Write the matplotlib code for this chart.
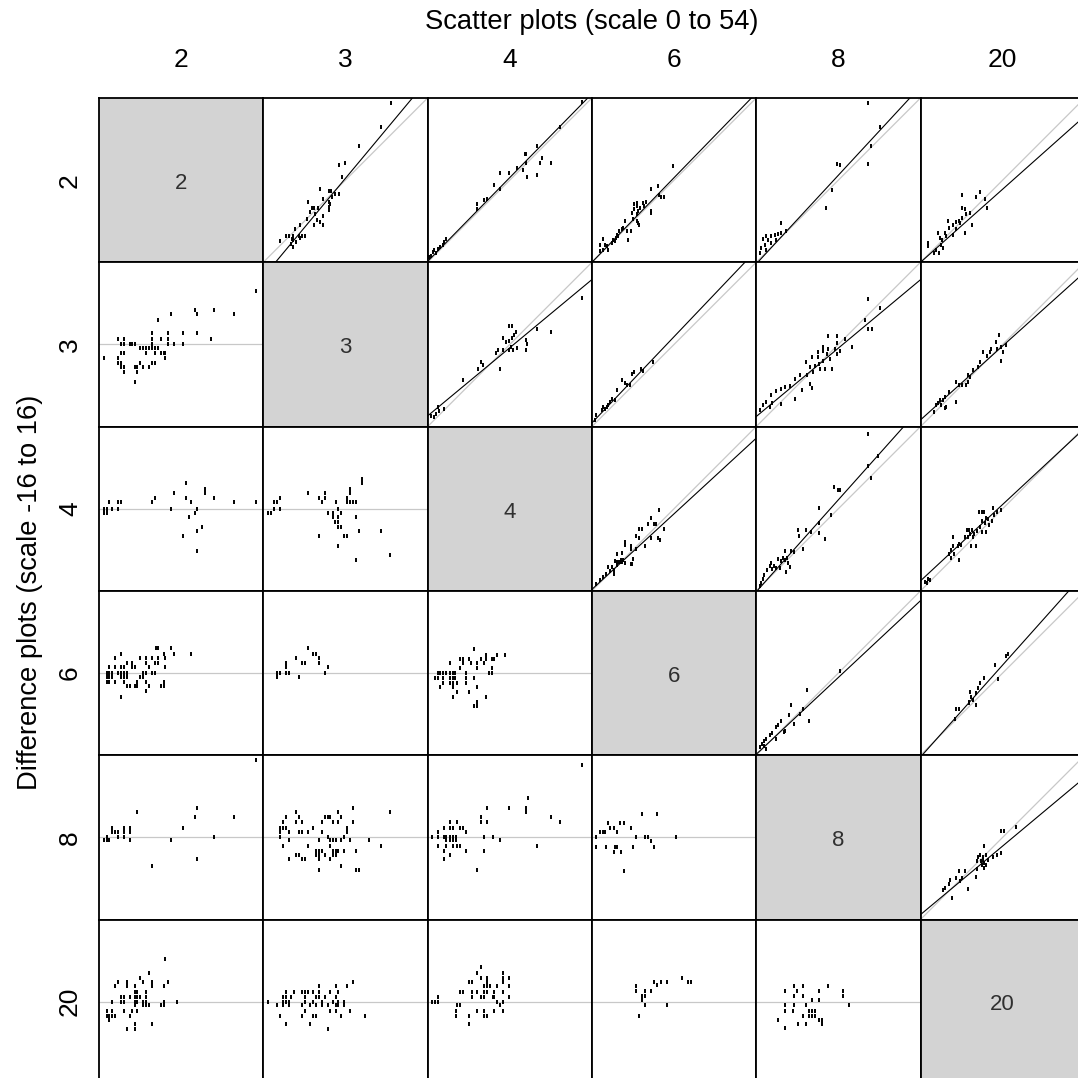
import matplotlib
matplotlib.use("Agg")
import matplotlib.pyplot as plt

plt.rcParams["font.family"] = ["Liberation Sans", "DejaVu Sans"]

labels = ["2", "3", "4", "6", "8", "20"]

# ---- scatter plots (upper triangle), scale 0 to 54 ----
sc_2v3_x = [41.9, 38.8, 31.6, 24.8, 26.7, 25.9, 18.5, 21.5, 22.3, 23.7, 24.8, 22.6, 19.6, 21.5, 22.0, 21.5, 21.5,
            14.7, 16.0, 16.8, 17.9, 17.1, 19.6, 17.6, 18.5, 19.6, 16.5, 11.9, 10.5, 9.9, 9.4, 10.8, 11.6, 12.7,
            13.8, 8.3, 7.5, 5.5, 9.0, 9.9, 9.9, 11.9, 15.4, 14.3]
sc_2v3_y = [52.3, 44.6, 38.3, 32.0, 32.5, 28.1, 24.2, 23.4, 23.4, 22.4, 22.4, 21.5, 20.7, 19.8, 19.3, 18.2, 17.1,
            19.8, 17.9, 17.9, 17.9, 16.0, 15.2, 13.8, 13.2, 12.1, 12.1, 12.1, 11.0, 8.8, 7.5, 6.6, 8.8, 8.8,
            8.8, 8.8, 8.8, 6.9, 6.1, 5.0, 7.2, 7.9, 16.5, 14.3]

sc_2v4_x = [50.9, 43.5, 35.8, 32.0, 32.5, 37.7, 36.9, 40.6, 35.8, 32.8, 29.5, 32.5, 31.2, 23.7, 26.7, 21.8, 19.6,
            18.5, 23.7, 16.2, 16.2, 6.1, 5.5, 5.0, 4.2, 3.3, 2.2, 1.7, 2.8, 1.1, 0.6]
sc_2v4_y = [52.7, 44.6, 38.3, 35.5, 35.5, 34.4, 32.5, 32.5, 28.7, 28.0, 31.1, 32.5, 30.3, 29.2, 29.2, 25.4, 20.9,
            20.4, 24.2, 19.0, 17.6, 7.7, 6.6, 5.7, 5.0, 4.4, 3.9, 3.3, 3.1, 2.2, 1.7]

sc_2v6_x = [26.8, 19.5, 21.6, 22.8, 23.8, 21.9, 19.5, 19.5, 17.7, 16.7, 17.2, 14.7, 13.9, 14.7, 15.8, 13.9, 13.1,
            14.7, 15.3, 15.3, 14.7, 15.6, 13.6, 10.9, 9.8, 9.0, 10.3, 11.7, 12.8, 11.8, 7.0, 7.9, 8.7, 6.5, 7.6,
            8.4, 3.7, 4.3, 3.5, 2.6, 5.1, 5.4, 2.6]
sc_2v6_y = [31.6, 24.1, 25.2, 21.3, 21.3, 22.2, 16.9, 16.1, 19.9, 19.4, 18.5, 19.6, 19.1, 18.5, 18.0, 17.4, 16.1,
            15.8, 16.9, 13.0, 13.5, 12.4, 14.1, 13.5, 10.8, 10.2, 11.3, 10.2, 10.2, 7.4, 7.4, 8.0, 8.5, 6.3, 6.9,
            9.1, 7.7, 5.8, 4.1, 3.6, 5.2, 4.1, 5.8]

sc_2v8_x = [36.9, 40.7, 37.7, 36.9, 26.6, 27.5, 24.8, 22.8, 8.3, 9.9, 8.3, 7.2, 6.1, 5.0, 3.3, 2.2, 3.9, 2.8, 1.7,
            3.1, 5.0, 6.4, 1.1]
sc_2v8_y = [52.4, 44.6, 38.3, 32.4, 32.4, 31.9, 23.9, 17.8, 13.0, 10.2, 9.6, 9.4, 9.1, 8.8, 8.5, 7.7, 7.2, 5.8, 4.7,
            4.1, 6.3, 7.4, 3.0]

sc_2v20_x = [13.6, 19.5, 18.4, 21.9, 21.3, 17.0, 14.5, 10.7, 11.6, 10.7, 12.9, 13.8, 14.5, 15.1, 13.8, 12.7, 11.8,
             16.3, 9.0, 9.4, 7.9, 8.3, 5.7, 6.3, 6.8, 5.2, 7.4, 4.6, 6.1, 2.4, 2.4, 7.2]
sc_2v20_y = [22.2, 23.0, 21.3, 17.8, 20.8, 12.1, 9.7, 9.1, 10.8, 12.4, 13.0, 18.0, 17.4, 15.8, 14.7, 13.5, 13.1,
             16.3, 13.5, 11.3, 9.7, 8.5, 9.7, 8.0, 5.8, 4.1, 4.7, 3.0, 3.0, 6.3, 5.2, 7.4]

sc_3v4_x = [50.9, 40.6, 35.8, 32.5, 32.8, 32.3, 26.8, 27.8, 24.8, 25.9, 26.8, 27.8, 29.2, 28.4, 29.5, 28.1, 26.7,
            27.3, 24.8, 22.6, 23.7, 23.1, 17.4, 18.2, 16.5, 11.6, 3.3, 3.9, 2.8, 2.2, 5.5, 1.1]
sc_3v4_y = [42.2, 31.2, 32.0, 28.4, 27.3, 25.3, 33.2, 33.2, 29.0, 27.9, 28.1, 29.0, 31.2, 30.1, 25.7, 25.3, 25.1,
            26.0, 25.1, 24.2, 19.0, 25.3, 21.2, 20.1, 19.0, 15.2, 6.3, 5.2, 4.1, 3.0, 5.8, 3.5]

sc_3v6_x = [9.8, 8.4, 13.1, 13.9, 16.1, 16.9, 20.2, 11.4, 10.9, 12.5, 6.5, 7.6, 4.8, 4.3, 5.4, 3.2, 3.7, 1.5, 1.0, 5.9]
sc_3v6_y = [15.2, 11.9, 17.3, 17.9, 19.0, 18.4, 21.1, 13.6, 14.4, 13.8, 9.2, 8.7, 6.5, 5.7, 7.0, 5.4, 6.5, 3.8, 2.2,
            8.1]

sc_3v8_x = [36.9, 40.7, 36.9, 38.0, 35.8, 31.4, 29.2, 26.4, 23.7, 26.6, 25.9, 26.4, 27.5, 21.8, 21.8, 23.7, 23.3,
            24.2, 24.8, 22.0, 20.7, 22.6, 20.9, 20.4, 20.4, 18.5, 19.3, 17.6, 16.5, 16.7, 18.7, 14.3, 12.7, 11.0,
            9.6, 8.3, 6.4, 5.0, 4.4, 5.3, 8.3, 12.7, 14.9, 17.6, 18.2, 2.2, 3.3, 1.1]
sc_3v8_y = [42.0, 39.0, 32.0, 32.0, 35.0, 26.0, 28.7, 29.8, 29.8, 27.6, 25.5, 23.8, 24.9, 26.0, 24.9, 25.5, 23.8,
            22.2, 19.0, 21.7, 20.6, 19.0, 19.0, 24.4, 22.8, 22.8, 20.0, 19.5, 21.1, 16.8, 17.9, 17.0, 15.7, 13.3,
            13.0, 12.5, 11.6, 10.3, 6.5, 7.6, 7.3, 9.0, 11.9, 14.1, 12.7, 7.0, 8.1, 5.4]

sc_3v20_x = [25.8, 24.8, 26.6, 27.0, 28.1, 25.2, 26.6, 22.8, 23.3, 20.6, 21.7, 19.5, 18.9, 17.2, 16.4, 15.6, 15.6,
             14.9, 13.8, 12.7, 11.8, 11.8, 9.4, 8.2, 6.3, 5.7, 5.2, 7.4, 8.5, 8.2, 6.8, 4.6]
sc_3v20_y = [30.0, 27.9, 26.0, 24.4, 26.8, 25.5, 21.7, 24.4, 25.5, 24.4, 23.3, 21.1, 19.5, 18.7, 16.3, 17.0, 14.6,
             13.8, 13.6, 13.8, 14.6, 8.1, 11.4, 9.8, 8.7, 7.6, 7.0, 8.7, 6.5, 6.0, 7.0, 4.9]

sc_4v6_x = [21.9, 19.3, 20.3, 21.2, 18.4, 23.6, 15.5, 16.5, 14.6, 15.5, 19.3, 21.8, 22.3, 10.8, 10.8, 17.5, 12.7,
            12.7, 14.6, 9.8, 8.4, 9.4, 10.3, 13.6, 10.8, 12.7, 7.5, 8.4, 9.0, 9.4, 9.8, 6.6, 5.4, 7.2, 7.2, 6.1,
            4.6, 3.7, 2.6, 1.5, 13.3, 8.2]
sc_4v6_y = [26.5, 23.8, 22.0, 22.0, 22.0, 20.3, 20.3, 20.3, 18.2, 17.5, 17.5, 17.5, 16.8, 16.1, 15.2, 14.7, 14.7,
            13.8, 13.8, 12.4, 12.0, 10.3, 10.3, 10.6, 9.2, 8.8, 9.9, 9.6, 9.6, 9.6, 9.6, 7.9, 7.9, 6.9, 5.5, 6.5,
            5.5, 4.7, 3.7, 2.3, 8.8, 8.5]

sc_4v8_x = [36.7, 36.8, 40.1, 37.6, 25.7, 26.8, 27.6, 20.7, 24.5, 20.6, 20.6, 22.7, 16.4, 13.7, 14.2, 18.1, 15.3,
            9.6, 11.5, 12.3, 10.1, 9.4, 8.8, 7.1, 8.2, 5.7, 4.4, 5.3, 3.5, 4.9, 6.6, 7.7, 9.9, 11.0, 10.4, 2.2,
            1.6, 1.3, 2.7]
sc_4v8_y = [51.7, 41.2, 44.4, 37.1, 34.0, 33.3, 33.3, 27.4, 25.1, 22.3, 18.9, 17.2, 20.0, 20.0, 18.2, 19.2, 13.8,
            13.0, 13.0, 12.7, 10.9, 10.3, 10.9, 10.6, 9.9, 8.3, 8.3, 7.2, 6.8, 9.2, 7.6, 7.6, 6.2, 7.9, 9.2, 4.0,
            2.6, 1.7, 5.1]

sc_4v20_x = [1.5, 2.4, 3.2, 2.1, 9.3, 10.1, 11.0, 12.6, 10.6, 10.6, 10.0, 12.2, 12.6, 13.4, 14.5, 15.2, 16.1, 17.0,
             17.7, 15.5, 16.4, 17.2, 18.1, 16.6, 18.5, 19.2, 20.3, 21.0, 20.3, 21.1, 20.3, 21.6, 23.9, 25.2, 26.3,
             23.5, 22.1, 24.3, 22.4, 19.4, 21.6]
sc_4v20_y = [3.0, 4.0, 3.7, 2.6, 12.0, 10.9, 12.0, 10.3, 17.8, 14.7, 13.6, 14.7, 15.4, 15.0, 17.8, 20.0, 20.0, 20.0,
             18.6, 17.8, 18.6, 17.8, 14.7, 14.7, 19.6, 25.8, 25.8, 25.8, 23.0, 22.3, 19.2, 19.2, 27.4, 25.8, 26.5,
             23.0, 23.7, 25.1, 21.6, 20.9, 24.1]

sc_6v8_x = [16.6, 11.5, 10.7, 15.3, 14.5, 17.3, 12.3, 8.2, 7.1, 6.4, 9.6, 9.1, 5.3, 4.4, 3.3, 2.4, 2.0, 2.7, 1.3,
            3.1, 6.4, 27.6]
sc_6v8_y = [21.5, 16.6, 13.3, 15.1, 13.7, 11.4, 10.2, 11.4, 10.0, 9.3, 7.9, 7.5, 7.2, 6.5, 5.4, 4.8, 3.7, 3.0, 2.6,
            2.1, 5.4, 27.7]

sc_6v20_x = [28.1, 28.7, 24.6, 25.5, 20.8, 19.6, 18.8, 18.3, 16.4, 16.1, 17.2, 15.9, 18.3, 16.6, 12.6, 11.7, 11.2]
sc_6v20_y = [32.5, 33.1, 29.8, 25.2, 25.5, 23.8, 22.0, 20.4, 20.8, 17.6, 18.3, 17.3, 16.5, 19.1, 15.1, 15.1, 12.0]

sc_8v20_x = [31.4, 26.5, 27.4, 20.8, 19.6, 20.5, 21.4, 18.8, 18.5, 19.9, 21.0, 20.2, 21.5, 21.0, 18.5, 20.4, 22.1,
             23.8, 25.1, 26.5, 18.3, 12.6, 14.5, 13.7, 11.7, 13.0, 15.5, 10.4, 9.7, 7.3, 8.2, 9.5]
sc_8v20_y = [30.5, 29.1, 29.1, 24.0, 21.3, 20.6, 21.3, 20.6, 19.2, 19.2, 18.5, 17.9, 17.9, 16.8, 16.5, 19.5, 19.5,
             20.6, 21.3, 22.0, 14.0, 15.8, 15.8, 13.5, 13.7, 12.6, 9.9, 7.1, 13.1, 9.6, 10.3, 11.7]

# fitted line per scatter panel (intercept, slope)
fit_icpt = {"2v3": -4.8, "2v4": 0.3, "2v6": 0.0, "2v8": -0.55, "2v20": 0.0,
            "3v4": 3.5, "3v6": 1.2, "3v8": 3.3, "3v20": 2.2,
            "4v6": 0.5, "4v8": -0.3, "4v20": 3.3,
            "6v8": 0.3, "6v20": -0.6, "8v20": 1.6}
fit_slope = {"2v3": 1.2, "2v4": 1.02, "2v6": 1.03, "2v8": 1.08, "2v20": 0.89,
             "3v4": 0.83, "3v6": 1.05, "3v8": 0.833, "3v20": 0.90,
             "4v6": 0.92, "4v8": 1.12, "4v20": 0.93,
             "6v8": 0.935, "6v20": 1.12, "8v20": 0.835}

# ---- difference plots (lower triangle), scale -16 to 16 ----
df_3v2_x = [51.7, 31.4, 37.7, 23.8, 32.3, 44.5, 19.4, 17.5, 22.8, 27.6, 32.3, 6.4, 8.3, 17.5, 20.4, 22.8, 36.7,
            7.3, 8.3, 10.2, 10.7, 11.7, 17.5, 22.8, 24.6, 27.6, 13.6, 14.6, 15.4, 16.5, 17.5, 18.4, 19.4, 7.3, 8.3,
            15.4, 18.4, 20.4, 21.4, 21.8, 1.5, 6.4, 21.8, 6.4, 7.3, 17.5, 18.4, 7.3, 8.3, 11.7, 12.6, 14.6, 16.5,
            13.6, 8.3, 12.6, 11.7]
df_3v2_y = [10.5, 6.8, 6.8, 5.9, 5.9, 5.9, 4.7, 2.2, 2.2, 2.2, 2.2, 1.0, 1.0, 1.0, 1.0, 1.0, 1.0,
            0, 0, 0, 0, 0, 0, 0, 0, 0, -0.7, -0.7, -0.7, -0.7, -0.7, -0.7, -0.7, -1.6, -1.6,
            -1.6, -1.6, -1.6, -1.6, -1.6, -2.7, -2.7, -2.7, -3.6, -3.6, -3.6, -3.6, -4.4, -4.4, -4.4, -4.4, -4.4, -4.4,
            -3.6, -5.3, -5.3, -7.3]

df_4v2_x = [1.8, 2.5, 4.4, 6.4, 1.8, 2.5, 3.4, 6.4, 7.3, 17.5, 18.4, 24.6, 28.5, 28.5, 30.4, 23.8, 32.3, 34.8, 34.8,
            37.8, 44.5, 51.7, 31.4, 29.5, 33.7, 32.3, 27.6, 32.3]
df_4v2_y = [0, 0, 0, 0, -0.8, -0.8, 1.3, 1.3, 1.3, 1.3, 2.1, 3.0, 5.0, 2.1, 1.3, 0, 0, 3.9, 3.0,
            2.1, 1.3, 1.3, -0.8, -1.6, -3.6, -4.4, -5.3, -8.2]

df_4v3_x = [1.6, 2.5, 3.5, 5.4, 3.5, 4.4, 5.4, 14.6, 18.4, 20.3, 20.3, 19.4, 23.8, 24.6, 27.6, 28.5, 28.5, 27.6,
            28.5, 29.5, 30.4, 32.3, 32.3, 21.4, 22.8, 25.6, 22.8, 24.6, 23.7, 24.6, 24.6, 25.6, 26.6, 27.6, 18.4,
            24.6, 30.4, 31.4, 38.7, 30.4, 41.5]
df_4v3_y = [-0.8, -0.8, 0, 0, 1.3, 1.3, 2.1, 3.0, 2.1, 3.0, 2.1, 1.3, 1.3, 0, 2.1, 3.0, 3.9, 1.3,
            1.3, 1.3, 1.3, 5.8, 5.0, -0.8, -0.8, -0.8, -1.6, -1.6, -2.5, -2.5, -3.6, -3.6, -5.3, -5.3, -5.3,
            -7.3, -1.6, -4.4, -4.4, -9.9, -9.0]

df_6v2_x = [18.7, 19.5, 23.8, 7.3, 21.4, 24.6, 30.4, 5.4, 13.6, 15.4, 17.5, 19.5, 21.8, 9.3, 10.7, 15.4, 18.5, 19.5,
            3.4, 5.4, 7.3, 8.3, 10.7, 11.7, 16.5, 21.8, 2.5, 3.4, 4.4, 6.4, 7.3, 8.3, 9.3, 14.6, 15.4, 17.5, 18.5,
            2.5, 3.4, 4.4, 7.3, 8.3, 9.3, 13.6, 14.6, 2.5, 3.4, 5.4, 8.3, 12.6, 15.4, 21.4, 9.3, 10.2, 11.7, 12.6,
            16.5, 20.4, 21.4, 15.4, 7.3]
df_6v2_y = [4.9, 4.9, 4.9, 3.7, 3.7, 3.7, 3.7, 2.9, 2.9, 2.9, 2.9, 2.9, 2.9, 2.0, 2.0, 2.0, 2.0, 2.0,
            1.2, 1.2, 1.2, 1.2, 1.2, 1.2, 1.2, 1.2, 0, 0, 0, 0, 0, 0, 0, 0, 0, 0, 0,
            -0.8, -0.8, -0.8, -0.8, -0.8, -0.8, -0.8, -0.8, -1.75, -1.75, -1.75, -1.75, -1.75, -1.75, -1.75,
            -2.6, -2.6, -2.6, -2.6, -2.6, -2.6, -2.6, -3.5, -4.6]

df_6v3_x = [14.6, 16.4, 17.4, 10.6, 18.4, 7.3, 12.6, 13.6, 18.4, 7.3, 21.2, 4.4, 5.4, 7.3, 8.3, 20.3, 4.4, 11.6]
df_6v3_y = [4.9, 3.7, 3.7, 2.9, 2.9, 2.0, 2.0, 2.0, 2.0, 1.2, 1.2, 0, 0, 0, 0, 0, -0.8, -0.8]

df_6v4_x = [15.4, 19.3, 22.7, 25.6, 10.5, 11.6, 13.6, 17.4, 19.3, 21.3, 21.7, 7.2, 11.6, 14.4, 18.4, 16.4,
            10.5, 16.4, 21.3, 3.3, 4.2, 5.2, 6.2, 7.2, 8.2, 9.1, 12.6, 20.3, 21.3, 2.3, 3.3, 5.2, 7.2, 8.2, 9.1,
            12.6, 15.4, 5.2, 7.2, 8.2, 9.6, 12.6, 4.2, 8.2, 16.4, 9.6, 13.6, 8.2, 19.3, 16.4, 15.4, 16.4]
df_6v4_y = [4.7, 3.6, 3.6, 3.6, 2.7, 2.7, 2.7, 2.7, 2.7, 2.7, 2.7, 1.9, 1.9, 1.9, 1.9, 1.9,
            1.0, 1.0, 1.0, 0, 0, 0, 0, 0, 0, 0, 0, 0, 0, -1.0, -1.0, -1.0, -1.0, -1.0, -1.0,
            -1.0, -1.0, -1.9, -1.9, -1.9, -1.9, -1.9, -2.7, -2.7, -2.7, -3.6, -3.6, -4.7, -4.7, -5.6, -6.4, -6.4]

df_8v2_x = [51.7, 12.6, 32.3, 31.4, 44.5, 27.6, 4.4, 8.3, 10.2, 4.4, 5.4, 6.4, 8.3, 10.2, 2.5, 6.4, 8.3, 37.8,
            1.5, 2.5, 3.4, 10.2, 23.8, 32.3, 17.5]
df_8v2_y = [15.1, 4.9, 5.7, 4.0, 4.0, 1.9, 1.9, 1.9, 1.9, 1.1, 1.1, 1.1, 1.1, 1.1, 0, 0, 0, 0,
            -0.6, -0.6, -0.6, -0.6, -0.6, -4.3, -5.5]

df_8v3_x = [29.5, 41.5, 10.6, 24.6, 7.3, 11.6, 20.3, 21.2, 21.8, 25.6, 6.4, 10.6, 12.6, 19.4, 22.8, 24.6, 29.5,
            5.4, 6.4, 7.3, 16.4, 27.6, 5.4, 8.3, 11.6, 12.6, 14.6, 19.4, 27.6, 5.4, 21.2, 26.6, 8.3, 18.4, 21.8,
            22.8, 23.8, 25.6, 28.5, 34.8, 6.4, 14.6, 21.8, 38.7, 17.4, 18.4, 19.4, 22.8, 23.8, 24.6, 26.6, 30.4,
            10.6, 11.6, 17.4, 18.4, 20.3, 22.8, 23.8, 8.3, 12.6, 13.6, 18.4, 21.8, 25.6, 18.4, 30.4, 31.4]
df_8v3_y = [5.7, 4.9, 4.9, 4.9, 4.0, 4.0, 4.0, 4.0, 4.0, 4.0, 2.9, 2.9, 2.9, 2.9, 2.9, 2.9, 2.9,
            1.9, 1.9, 1.9, 1.9, 1.9, 1.1, 1.1, 1.1, 1.1, 1.1, 1.1, 1.1, 0, 0, 0, -0.6, -0.6, -0.6,
            -0.6, -0.6, -0.6, -0.6, -0.6, -1.75, -1.75, -1.75, -1.75, -2.6, -2.6, -2.6, -2.6, -2.6, -2.6, -2.6, -2.6,
            -3.4, -3.4, -3.4, -3.4, -3.4, -3.4, -3.4, -4.3, -4.3, -4.3, -4.3, -4.3, -5.5, -6.3, -6.3, -6.3]

df_8v4_x = [50.8, 32.9, 32.4, 32.4, 19.4, 26.6, 40.6, 17.4, 43.6, 17.4, 19.4, 7.2, 9.6, 5.4, 7.2, 8.2, 10.6, 11.6,
            3.4, 12.6, 1.4, 3.4, 5.4, 6.2, 7.2, 8.2, 9.2, 18.4, 21.4, 6.2, 7.2, 8.2, 9.2, 23.8, 3.4, 6.2, 8.2, 9.6,
            10.6, 35.8, 5.4, 12.6, 18.4, 7.2, 5.4, 16.4]
df_8v4_y = [14.0, 7.7, 5.7, 4.9, 5.7, 5.7, 4.0, 4.0, 2.9, 2.9, 2.9, 2.9, 2.9, 1.9, 1.9, 1.9, 1.9, 1.9,
            1.1, 1.1, 0, 0, 0, 0, 0, 0, 0, 0, 0, -0.6, -0.6, -0.6, -0.6, -0.6, -1.75, -1.75, -1.75, -1.75,
            -1.75, -1.75, -2.6, -2.6, -2.6, -3.4, -4.3, -6.3]

df_8v6_x = [16.5, 21.3, 5.4, 9.2, 10.7, 6.0, 7.2, 12.7, 2.6, 3.5, 4.3, 8.3, 1.5, 14.6, 17.4, 18.5, 27.5, 1.5, 4.5,
            13.6, 20.3, 7.5, 8.1, 7.2, 9.7, 19.4, 10.7]
df_8v6_y = [4.6, 4.6, 2.7, 2.7, 2.7, 1.9, 1.9, 1.9, 1.1, 1.1, 1.1, 1.1, 0, 0, 0, 0, 0, -1.9, -1.9,
            -1.9, -1.9, -1.9, -1.9, -2.8, -2.8, -0.8, -6.5]

df_20v2_x = [21.8, 16.5, 13.6, 6.4, 9.3, 14.6, 17.5, 22.8, 5.4, 9.3, 11.7, 17.5, 21.4, 11.7, 12.6, 15.4,
             7.3, 8.3, 10.2, 11.7, 12.6, 13.6, 15.4, 4.4, 7.3, 8.3, 11.7, 12.6, 14.6, 15.4, 21.4, 25.6,
             11.7, 14.6, 15.4, 16.5, 20.4, 21.4, 2.5, 4.4, 8.3, 10.7, 12.6, 2.5, 3.4, 4.4, 5.4, 10.2, 3.4,
             11.7, 17.5, 9.3, 11.7]
df_20v2_y = [8.4, 5.5, 4.7, 3.8, 3.8, 3.8, 3.8, 3.8, 3.0, 3.0, 3.0, 3.0, 3.0, 1.9, 1.9, 1.9,
             1.0, 1.0, 1.0, 1.0, 1.0, 1.0, 1.0, 0, 0, 0, 0, 0, 0, 0, 0, 0,
             -0.7, -0.7, -0.7, -0.7, -0.7, -0.7, -1.8, -1.8, -1.8, -1.8, -1.8, -2.7, -2.7, -2.7, -2.7, -2.7, -3.6,
             -4.4, -4.4, -5.3, -5.3]

df_20v3_x = [29.5, 18.4, 23.8, 27.6, 7.3, 10.2, 12.6, 13.6, 14.6, 16.4, 18.4, 21.8, 24.6,
             6.4, 7.3, 9.2, 13.6, 17.4, 18.4, 20.3, 23.8, 1.6, 6.4, 7.3, 8.3, 13.6, 16.4, 19.4, 22.8, 24.6, 26.6,
             4.4, 6.4, 8.3, 12.6, 15.5, 17.4, 19.4, 21.2, 23.8, 24.6, 26.6, 13.6, 21.8, 23.8, 28.5,
             5.4, 12.6, 16.4, 17.4, 25.6, 33.4, 7.3, 15.5, 21.2]
df_20v3_y = [3.8, 3.0, 3.0, 3.0, 1.9, 1.9, 1.9, 1.9, 1.9, 1.9, 1.9, 1.9, 1.9,
             1.0, 1.0, 1.0, 1.0, 1.0, 1.0, 1.0, 1.0, 0, 0, 0, 0, 0, 0, 0, 0, 0, 0,
             -0.7, -0.7, -0.7, -0.7, -0.7, -0.7, -0.7, -0.7, -0.7, -0.7, -0.7, -1.8, -1.8, -1.8, -1.8,
             -2.7, -2.7, -2.7, -2.7, -2.7, -2.7, -4.4, -4.4, -5.3]

df_20v4_x = [17.4, 16.4, 24.8, 17.4, 19.4, 24.8, 26.6, 13.6, 14.6, 19.4, 24.8, 18.4, 19.4, 20.4, 22.8, 26.6,
             10.6, 11.6, 14.6, 16.4, 18.4, 19.4, 21.8, 24.8, 3.4, 14.6, 17.4, 18.4, 21.4, 21.8, 26.6,
             1.4, 2.4, 3.4, 22.8, 24.8, 9.6, 10.6, 23.8, 9.2, 16.4, 18.4, 21.8, 24.8, 9.2, 13.6, 18.4, 19.4, 13.6]
df_20v4_y = [6.7, 5.5, 5.5, 4.7, 4.7, 4.7, 4.7, 3.8, 3.8, 3.8, 3.8, 3.0, 3.0, 3.0, 3.0, 3.0,
             1.9, 1.9, 1.9, 1.9, 1.9, 1.9, 1.9, 1.9, 1.0, 1.0, 1.0, 1.0, 1.0, 1.0, 1.0,
             0, 0, 0, 0, 0, -0.7, -0.7, -0.7, -1.8, -1.8, -1.8, -1.8, -1.8, -2.7, -2.7, -2.7, -2.7, -4.4]

df_20v6_x = [29.6, 31.7, 32.5, 20.4, 22.6, 24.7, 14.6, 21.5, 19.4, 14.6, 16.5, 17.4, 16.5, 17.4, 17.4, 24.7, 15.5]
df_20v6_y = [4.7, 3.9, 3.9, 3.9, 3.9, 3.9, 3.1, 3.3, 2.0, 2.0, 1.1, 2.0, 0.3, 1.1, -0.7, -0.7, -2.7]

df_20v8_x = [9.6, 12.5, 15.5, 23.5, 13.4, 20.6, 28.5, 28.5, 12.5, 15.5, 18.4, 20.6, 9.6, 12.5, 16.4, 30.4,
             9.6, 12.0, 15.5, 17.5, 18.4, 19.3, 17.5, 18.4, 19.3, 20.6, 21.6, 21.6, 7.3, 9.6, 13.7, 16.4]
df_20v8_y = [2.0, 3.1, 3.1, 3.1, 2.0, 2.0, 2.0, 1.1, 1.1, 1.1, 0.3, 0.3, -0.7, -0.7, -0.7, -0.7,
             -1.9, -1.9, -2.7, -1.9, -1.9, -1.9, -2.7, -2.7, -2.7, -3.5, -4.3, -3.5, -3.5, -5.1, -4.3, -4.3]

scatter = {
    (0, 1): ("2v3", sc_2v3_x, sc_2v3_y), (0, 2): ("2v4", sc_2v4_x, sc_2v4_y),
    (0, 3): ("2v6", sc_2v6_x, sc_2v6_y), (0, 4): ("2v8", sc_2v8_x, sc_2v8_y),
    (0, 5): ("2v20", sc_2v20_x, sc_2v20_y), (1, 2): ("3v4", sc_3v4_x, sc_3v4_y),
    (1, 3): ("3v6", sc_3v6_x, sc_3v6_y), (1, 4): ("3v8", sc_3v8_x, sc_3v8_y),
    (1, 5): ("3v20", sc_3v20_x, sc_3v20_y), (2, 3): ("4v6", sc_4v6_x, sc_4v6_y),
    (2, 4): ("4v8", sc_4v8_x, sc_4v8_y), (2, 5): ("4v20", sc_4v20_x, sc_4v20_y),
    (3, 4): ("6v8", sc_6v8_x, sc_6v8_y), (3, 5): ("6v20", sc_6v20_x, sc_6v20_y),
    (4, 5): ("8v20", sc_8v20_x, sc_8v20_y),
}
diffs = {
    (1, 0): (df_3v2_x, df_3v2_y), (2, 0): (df_4v2_x, df_4v2_y), (2, 1): (df_4v3_x, df_4v3_y),
    (3, 0): (df_6v2_x, df_6v2_y), (3, 1): (df_6v3_x, df_6v3_y), (3, 2): (df_6v4_x, df_6v4_y),
    (4, 0): (df_8v2_x, df_8v2_y), (4, 1): (df_8v3_x, df_8v3_y), (4, 2): (df_8v4_x, df_8v4_y),
    (4, 3): (df_8v6_x, df_8v6_y), (5, 0): (df_20v2_x, df_20v2_y), (5, 1): (df_20v3_x, df_20v3_y),
    (5, 2): (df_20v4_x, df_20v4_y), (5, 3): (df_20v6_x, df_20v6_y), (5, 4): (df_20v8_x, df_20v8_y),
}

W = 1078.0
x0, y0, cell = 99.0, 98.0, 164.3

fig = plt.figure(figsize=(10.78, 10.78), dpi=100)

pt = dict(ls="none", marker="|", ms=2.3, mew=1.4, color="black")

for r in range(6):
    for c in range(6):
        left = (x0 + c * cell) / W
        bottom = 1 - (y0 + (r + 1) * cell) / W
        ax = fig.add_axes([left, bottom, cell / W, cell / W])
        ax.set_xticks([])
        ax.set_yticks([])
        for sp in ax.spines.values():
            sp.set_linewidth(1.3)
            sp.set_color("black")
        if r == c:
            ax.set_facecolor("#d3d3d3")
            ax.text(0.5, 0.48, labels[r], ha="center", va="center", fontsize=16,
                    color="#303030", transform=ax.transAxes)
        elif r < c:
            key, xs, ys = scatter[(r, c)]
            ax.set_xlim(0, 54)
            ax.set_ylim(0, 54)
            ax.plot([0, 54], [0, 54], color="#c8c8c8", lw=0.9)
            ax.axline((0, fit_icpt[key]), slope=fit_slope[key], color="black", lw=0.8)
            ax.plot(xs, ys, **pt)
        else:
            xs, ys = diffs[(r, c)]
            ax.set_xlim(0, 54)
            ax.set_ylim(-16, 16)
            ax.axhline(0, color="#c8c8c8", lw=0.9)
            ax.plot(xs, ys, **pt)

fig.text(592 / W, 1 - 22 / W, "Scatter plots (scale 0 to 54)", ha="center", va="center", fontsize=19.7)
for i, lab in enumerate(labels):
    cx = (x0 + (i + 0.5) * cell) / W
    fig.text(cx, 1 - 60 / W, lab, ha="center", va="center", fontsize=19)
    cy = 1 - (y0 + (i + 0.5) * cell) / W
    fig.text(70 / W, cy, lab, ha="center", va="center", fontsize=19, rotation=90)
fig.text(30 / W, 1 - 592 / W, "Difference plots (scale -16 to 16)", ha="center", va="center",
         fontsize=19.7, rotation=90)

fig.savefig("out.png", dpi=100)
